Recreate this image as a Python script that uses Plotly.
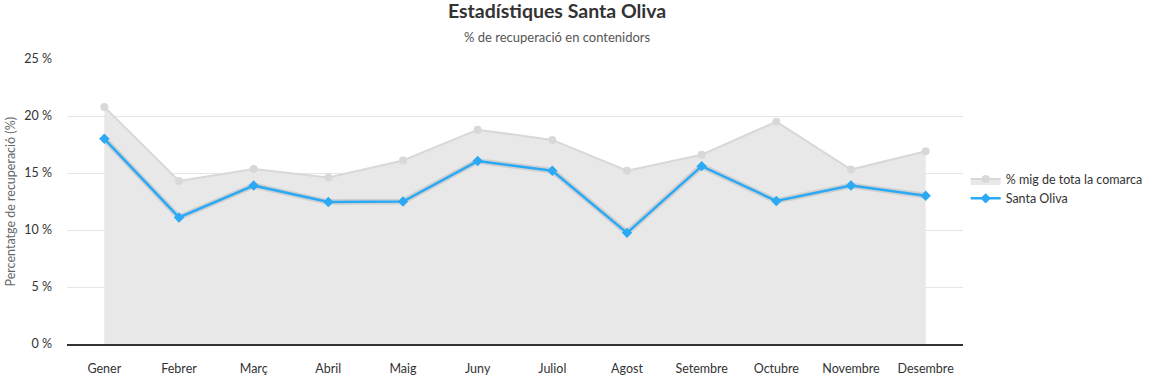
import plotly.graph_objects as go

months = ["Gener", "Febrer", "Març", "Abril", "Maig", "Juny", "Juliol",
          "Agost", "Setembre", "Octubre", "Novembre", "Desembre"]
comarca = [20.8, 14.3, 15.35, 14.6, 16.1, 18.8, 17.9, 15.2, 16.6, 19.5, 15.3, 16.9]
santa_oliva = [18.0, 11.1, 13.9, 12.45, 12.5, 16.05, 15.2, 9.75, 15.6, 12.55, 13.9, 13.0]

FONT = "Lato, Open Sans, sans-serif"

fig = go.Figure()
fig.add_trace(go.Scatter(
    x=months, y=comarca, name="% mig de tota la comarca",
    mode="lines+markers", fill="tozeroy", fillcolor="#e8e8e8",
    line=dict(color="#d8d8d8", width=2),
    marker=dict(symbol="circle", size=8, color="#d8d8d8"),
))
# soft shadow under the blue line
fig.add_trace(go.Scatter(
    x=months, y=santa_oliva, mode="lines", showlegend=False, hoverinfo="skip",
    line=dict(color="rgba(0,0,0,0.10)", width=6),
))
fig.add_trace(go.Scatter(
    x=months, y=santa_oliva, name="Santa Oliva",
    mode="lines+markers",
    line=dict(color="#2ba9f5", width=2.5),
    marker=dict(symbol="diamond", size=8, color="#2ba9f5"),
))

fig.update_layout(
    width=1156, height=376,
    margin=dict(l=67, r=193, t=59, b=32, autoexpand=False),
    plot_bgcolor="white", paper_bgcolor="white",
    font=dict(family=FONT, size=12.5, color="#333333"),
    title=dict(text="<b>Estadístiques Santa Oliva</b>", xref="paper", x=0.547,
               xanchor="center", yref="container", y=1 - 11 / 376, yanchor="middle",
               font=dict(size=19.5, color="#333333")),
    annotations=[
        dict(text="% de recuperació en contenidors", xref="paper", yref="paper",
             x=0.547, y=1.0, xanchor="center", yanchor="middle", yshift=22,
             showarrow=False, font=dict(size=13, color="#555555")),
        dict(text="Percentatge de recuperació (%)", xref="paper", yref="paper",
             x=0, y=0.5, xanchor="center", yanchor="middle", xshift=-57,
             textangle=-90, showarrow=False, font=dict(size=12.5, color="#666666")),
    ],
    legend=dict(x=1.003, y=0.544, xanchor="left", yanchor="middle",
                font=dict(size=12.5, color="#333333"), itemwidth=30),
    showlegend=True,
)
fig.update_xaxes(range=[-0.5, 11.5], showgrid=False, showline=True,
                 linecolor="#333333", linewidth=1.5,
                 ticks="", tickfont=dict(size=12.5, color="#333333"),
                 automargin=False, ticklabelstandoff=12)
fig.update_yaxes(range=[0, 25], dtick=5, ticksuffix=" %", showgrid=True,
                 gridcolor="#e6e6e6", zeroline=False, automargin=False,
                 ticklabelstandoff=14,
                 tickfont=dict(size=12.5, color="#333333"))

fig.write_html("out.html", config={"displayModeBar": False},
               post_script="document.body.style.margin='0';document.body.style.padding='0';")
